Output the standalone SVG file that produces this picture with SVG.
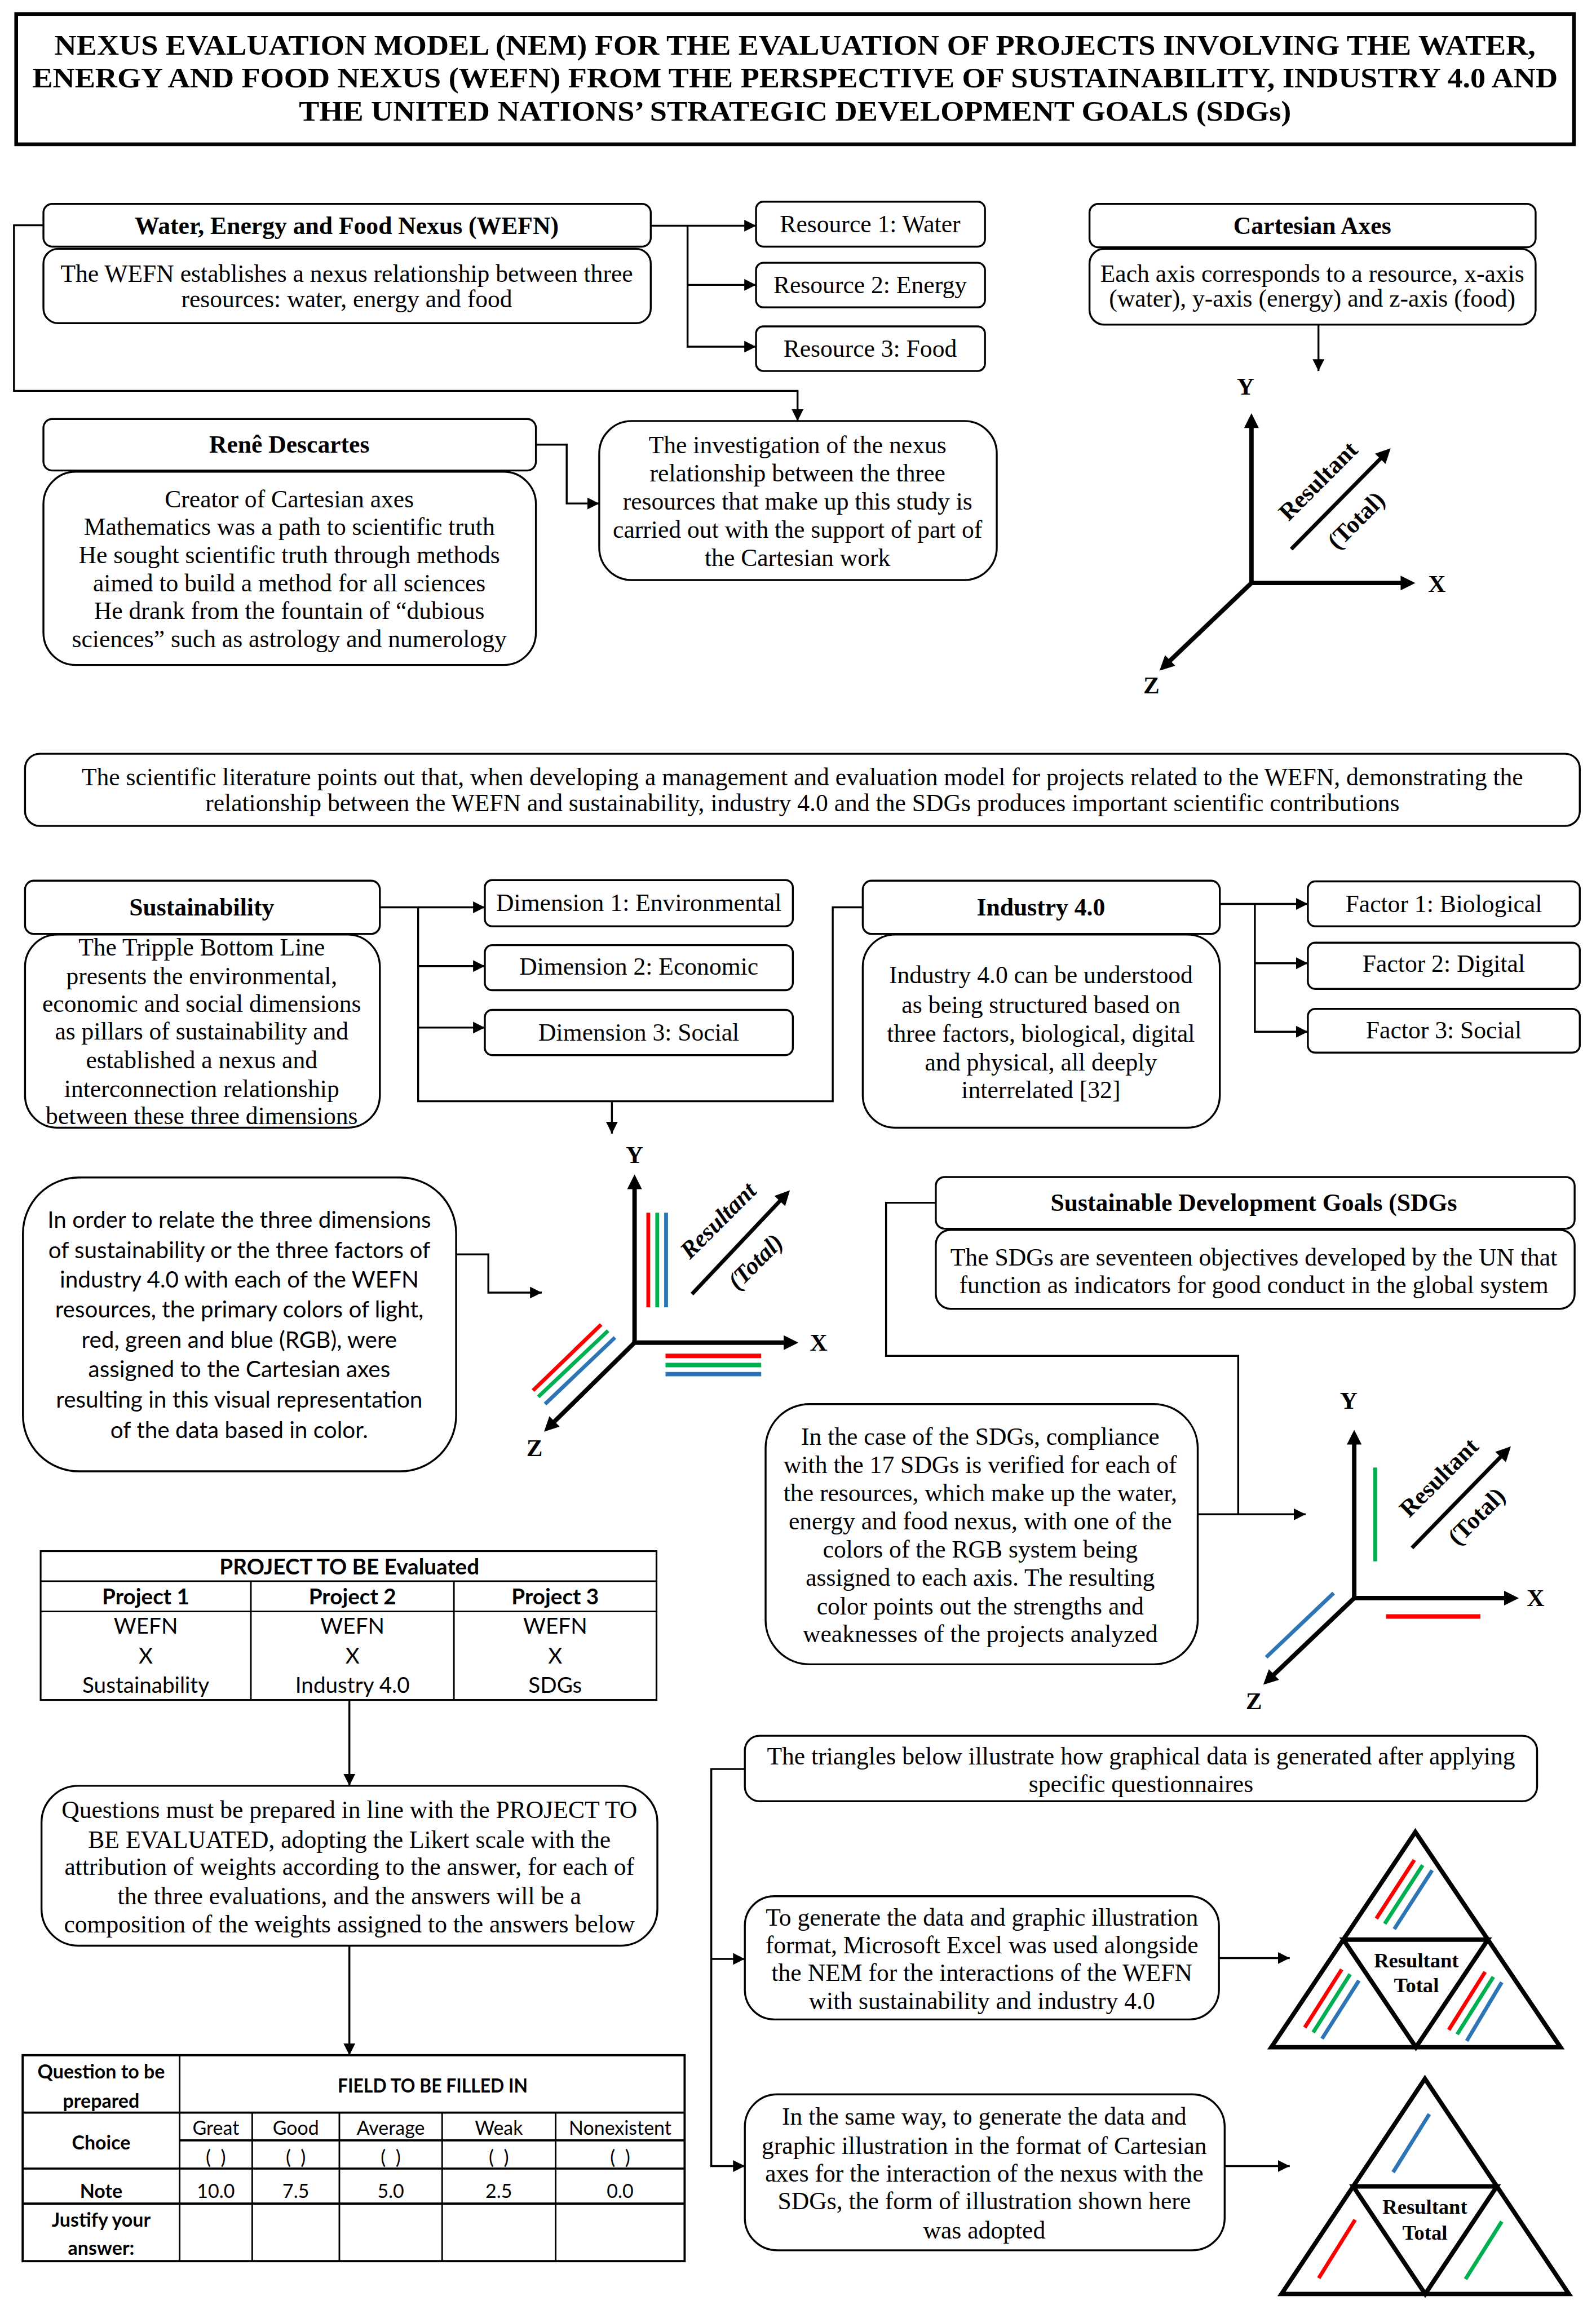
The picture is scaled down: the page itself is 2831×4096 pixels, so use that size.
<svg xmlns="http://www.w3.org/2000/svg" width="2831" height="4096" viewBox="0 0 2831 4096">
<defs>
<style>
.bx{fill:#fff;stroke:#000;stroke-width:1.3}
.ln{fill:none;stroke:#000;stroke-width:1.3}
.ax{fill:none;stroke:#000;stroke-width:3}
.s{font-family:"Liberation Serif","Times New Roman",serif;font-size:16.7px;text-anchor:middle;fill:#000}
.b{font-weight:bold}
.i{font-style:italic}
.lab{font-family:"Liberation Serif","Times New Roman",serif;font-size:16.5px;font-weight:bold;text-anchor:middle;fill:#000}
.k{font-family:Lato,"Open Sans","Liberation Sans",sans-serif;text-anchor:middle;fill:#000}
.k14{font-size:14.8px}
.k12{font-size:13px}
.tri{fill:#fff;stroke:#000;stroke-width:3;stroke-linejoin:miter}
.cl{fill:none;stroke-width:2.6}
.r{stroke:#FF0000}.g{stroke:#00B050}.bl{stroke:#2E75B6}
.tb{fill:none;stroke:#000;stroke-width:1.1}
</style>
<marker id="ar" viewBox="0 0 10 10" refX="10" refY="5" markerWidth="8" markerHeight="8" markerUnits="userSpaceOnUse" orient="auto"><path d="M0,0 L10,5 L0,10 z" fill="#000"/></marker>
<marker id="aa" viewBox="0 0 10 10" refX="3" refY="5" markerWidth="11" markerHeight="10" markerUnits="userSpaceOnUse" orient="auto"><path d="M0,0 L10,5 L0,10 z" fill="#000"/></marker>
</defs>
<rect width="2831" height="4096" fill="#fff"/>
<g transform="scale(2.6116)">

<g id="title">
<rect x="11" y="9.5" width="1058" height="88.5" fill="#fff" stroke="#000" stroke-width="2.5"/>
<text class="s b" style="font-size:19.5px" x="540" y="37" textLength="1006" lengthAdjust="spacingAndGlyphs">NEXUS EVALUATION MODEL (NEM) FOR THE EVALUATION OF PROJECTS INVOLVING THE WATER,</text>
<text class="s b" style="font-size:19.5px" x="540" y="59.5" textLength="1036" lengthAdjust="spacingAndGlyphs">ENERGY AND FOOD NEXUS (WEFN) FROM THE PERSPECTIVE OF SUSTAINABILITY, INDUSTRY 4.0 AND</text>
<text class="s b" style="font-size:19.5px" x="540" y="82" textLength="674" lengthAdjust="spacingAndGlyphs">THE UNITED NATIONS’ STRATEGIC DEVELOPMENT GOALS (SDGs)</text>
</g>

<g id="connectors">
<path class="ln" d="M442,153.3 H513.5" marker-end="url(#ar)"/>
<path class="ln" d="M467,153.3 V235.5 H513.5" marker-end="url(#ar)"/>
<path class="ln" d="M467,193.5 H513.5" marker-end="url(#ar)"/>
<path class="ln" d="M29.5,153 H9.5 V265.5 H541.7 V286" marker-end="url(#ar)"/>
<path class="ln" d="M364,302 H384.9 V342 H407" marker-end="url(#ar)"/>
<path class="ln" d="M895.5,220.5 V252" marker-end="url(#ar)"/>
<path class="ln" d="M258,616.3 H284 V748 H565.6 V616.3 H586"/>
<path class="ln" d="M284,616.3 H329.3" marker-end="url(#ar)"/>
<path class="ln" d="M284,656.2 H329.3" marker-end="url(#ar)"/>
<path class="ln" d="M284,698 H329.3" marker-end="url(#ar)"/>
<path class="ln" d="M415.6,748 V770" marker-end="url(#ar)"/>
<path class="ln" d="M828.5,614 H888.3" marker-end="url(#ar)"/>
<path class="ln" d="M852.3,614 V700.8 H888.3" marker-end="url(#ar)"/>
<path class="ln" d="M852.3,654.3 H888.3" marker-end="url(#ar)"/>
<path class="ln" d="M309.8,852 H331.7 V878 H368" marker-end="url(#ar)"/>
<path class="ln" d="M635.6,817 H601.8 V921 H841 V1028.6"/>
<path class="ln" d="M813.5,1028.6 H886.8" marker-end="url(#ar)"/>
<path class="ln" d="M237.3,1154.7 V1213" marker-end="url(#ar)"/>
<path class="ln" d="M237.3,1321.6 V1396" marker-end="url(#ar)"/>
<path class="ln" d="M505.9,1201.6 H483.1 V1471.3 H505.9" marker-end="url(#ar)"/>
<path class="ln" d="M483.1,1330.6 H505.9" marker-end="url(#ar)"/>
<path class="ln" d="M827.9,1330 H876" marker-end="url(#ar)"/>
<path class="ln" d="M831.8,1471.3 H876" marker-end="url(#ar)"/>
</g>

<g id="wefn">
<rect class="bx" x="29.5" y="138.5" width="412.5" height="29" rx="6"/>
<text class="s b" x="235.5" y="158.8">Water, Energy and Food Nexus (WEFN)</text>
<rect class="bx" x="29.5" y="169" width="412.5" height="50.5" rx="10"/>
<text class="s" x="235.5" y="191.5">The WEFN establishes a nexus relationship between three</text>
<text class="s" x="235.5" y="208.5">resources: water, energy and food</text>
</g>
<g id="resource1"><rect class="bx" x="513.5" y="137" width="155.5" height="30.5" rx="5"/><text class="s" x="591" y="157.8">Resource 1: Water</text></g>
<g id="resource2"><rect class="bx" x="513.5" y="178.5" width="155.5" height="30.3" rx="5"/><text class="s" x="591" y="199.3">Resource 2: Energy</text></g>
<g id="resource3"><rect class="bx" x="513.5" y="221.7" width="155.5" height="30.3" rx="5"/><text class="s" x="591" y="242.5">Resource 3: Food</text></g>

<g id="descartes">
<rect class="bx" x="29.5" y="284.6" width="334.5" height="35" rx="6"/>
<text class="s b" x="196.5" y="307.5">Renê Descartes</text>
<rect class="bx" x="29.5" y="320.4" width="334.5" height="131.3" rx="22"/>
<text class="s" x="196.5" y="344.5">Creator of Cartesian axes</text>
<text class="s" x="196.5" y="363.5">Mathematics was a path to scientific truth</text>
<text class="s" x="196.5" y="382.5">He sought scientific truth through methods</text>
<text class="s" x="196.5" y="401.5">aimed to build a method for all sciences</text>
<text class="s" x="196.5" y="420.5">He drank from the fountain of “dubious</text>
<text class="s" x="196.5" y="439.5">sciences” such as astrology and numerology</text>
</g>

<g id="investigation">
<rect class="bx" x="407" y="286" width="270" height="108" rx="22"/>
<text class="s" x="541.7" y="308">The investigation of the nexus</text>
<text class="s" x="541.7" y="327">relationship between the three</text>
<text class="s" x="541.7" y="346">resources that make up this study is</text>
<text class="s" x="541.7" y="365.3">carried out with the support of part of</text>
<text class="s" x="541.7" y="384.5">the Cartesian work</text>
</g>

<g id="cartesian">
<rect class="bx" x="740" y="138.5" width="303" height="29.5" rx="6"/>
<text class="s b" x="891.3" y="158.8">Cartesian Axes</text>
<rect class="bx" x="740" y="169" width="303" height="51.5" rx="10"/>
<text class="s" x="891.3" y="191.3">Each axis corresponds to a resource, x-axis</text>
<text class="s" x="891.3" y="208.2">(water), y-axis (energy) and z-axis (food)</text>
</g>

<g id="axes1">
<path class="ax" d="M850,396 V287.7" marker-end="url(#aa)"/>
<path class="ax" d="M848.5,396 H954.3" marker-end="url(#aa)"/>
<path class="ax" d="M850,396 L792.6,450.7" marker-end="url(#aa)"/>
<path class="ax" style="stroke-width:2.6" d="M877,373 L939.6,309.5" marker-end="url(#aa)"/>
<text class="lab" x="846" y="268">Y</text>
<text class="lab" x="976" y="402">X</text>
<text class="lab" x="782" y="471">Z</text>
<g transform="translate(895.3,326.6) rotate(-45)"><text class="lab" x="0" y="5.5">Resultant</text></g>
<g transform="translate(921,353.4) rotate(-45)"><text class="lab" x="0" y="5.5">(Total)</text></g>
</g>

<g id="literature">
<rect class="bx" x="17" y="512" width="1056" height="49" rx="10"/>
<text class="s" x="545" y="533.5">The scientific literature points out that, when developing a management and evaluation model for projects related to the WEFN, demonstrating the</text>
<text class="s" x="545" y="551">relationship between the WEFN and sustainability, industry 4.0 and the SDGs produces important scientific contributions</text>
</g>

<g id="sustainability">
<rect class="bx" x="17" y="598.2" width="241" height="36.2" rx="6"/>
<text class="s b" x="137" y="622">Sustainability</text>
<rect class="bx" x="17" y="634.8" width="241" height="131.2" rx="22"/>
<text class="s" x="137" y="649">The Tripple Bottom Line</text>
<text class="s" x="137" y="668.6">presents the environmental,</text>
<text class="s" x="137" y="687.3">economic and social dimensions</text>
<text class="s" x="137" y="706">as pillars of sustainability and</text>
<text class="s" x="137" y="725.5">established a nexus and</text>
<text class="s" x="137" y="745">interconnection relationship</text>
<text class="s" x="137" y="763.5">between these three dimensions</text>
</g>
<g id="dimension1"><rect class="bx" x="329.3" y="597.8" width="209.2" height="31.4" rx="5"/><text class="s" x="433.9" y="618.8">Dimension 1: Environmental</text></g>
<g id="dimension2"><rect class="bx" x="329.3" y="642" width="209.2" height="30.6" rx="5"/><text class="s" x="433.9" y="662">Dimension 2: Economic</text></g>
<g id="dimension3"><rect class="bx" x="329.3" y="686" width="209.2" height="30.7" rx="5"/><text class="s" x="433.9" y="707">Dimension 3: Social</text></g>

<g id="industry">
<rect class="bx" x="586" y="598.2" width="242.5" height="36.2" rx="6"/>
<text class="s b" x="707" y="622">Industry 4.0</text>
<rect class="bx" x="586" y="634.8" width="242.5" height="131.2" rx="22"/>
<text class="s" x="707" y="667.8">Industry 4.0 can be understood</text>
<text class="s" x="707" y="688">as being structured based on</text>
<text class="s" x="707" y="707.6">three factors, biological, digital</text>
<text class="s" x="707" y="727.2">and physical, all deeply</text>
<text class="s" x="707" y="745.8">interrelated [32]</text>
</g>
<g id="factor1"><rect class="bx" x="888.3" y="598.7" width="184.7" height="30.5" rx="5"/><text class="s" x="980.6" y="619.5">Factor 1: Biological</text></g>
<g id="factor2"><rect class="bx" x="888.3" y="640.3" width="184.7" height="31.4" rx="5"/><text class="s" x="980.6" y="660.2">Factor 2: Digital</text></g>
<g id="factor3"><rect class="bx" x="888.3" y="685.3" width="184.7" height="29.7" rx="5"/><text class="s" x="980.6" y="705.3">Factor 3: Social</text></g>

<g id="rgb">
<rect class="bx" x="15.6" y="799.8" width="294.2" height="199.6" rx="38"/>
<text class="k" style="font-size:15.5px" x="162.5" y="834">In order to relate the three dimensions</text>
<text class="k" style="font-size:15.5px" x="162.5" y="854.6">of sustainability or the three factors of</text>
<text class="k" style="font-size:15.5px" x="162.5" y="874.4">industry 4.0 with each of the WEFN</text>
<text class="k" style="font-size:15.5px" x="162.5" y="894.9">resources, the primary colors of light,</text>
<text class="k" style="font-size:15.5px" x="162.5" y="915.4">red, green and blue (RGB), were</text>
<text class="k" style="font-size:15.5px" x="162.5" y="935.6">assigned to the Cartesian axes</text>
<text class="k" style="font-size:15.5px" x="162.5" y="956.1">resulting in this visual representation</text>
<text class="k" style="font-size:15.5px" x="162.5" y="976.7">of the data based in color.</text>
</g>

<g id="axes2">
<path class="cl r" d="M440.3,823.7 V888"/>
<path class="cl g" d="M446.4,823.7 V888"/>
<path class="cl bl" d="M452.4,823.7 V888"/>
<path class="cl r" style="stroke-width:3" d="M452,921 H517"/>
<path class="cl g" style="stroke-width:3" d="M452,927.2 H517"/>
<path class="cl bl" style="stroke-width:3" d="M452,933.4 H517"/>
<path class="cl r" d="M362,944.5 L408.3,899.7"/>
<path class="cl g" d="M365.6,948.8 L413,903.9"/>
<path class="cl bl" d="M370.2,953.7 L417.7,908.5"/>
<path class="ax" d="M431,912 V804.7" marker-end="url(#aa)"/>
<path class="ax" d="M429.5,912 H535.3" marker-end="url(#aa)"/>
<path class="ax" d="M431,912 L374.5,967.6" marker-end="url(#aa)"/>
<path class="ax" style="stroke-width:2.6" d="M470,879 L531.7,813.6" marker-end="url(#aa)"/>
<text class="lab" x="431" y="790">Y</text>
<text class="lab" x="556" y="917.5">X</text>
<text class="lab" x="363" y="989">Z</text>
<g transform="translate(487.7,829) rotate(-45)"><text class="lab i" x="0" y="5.5">Resultant</text></g>
<g transform="translate(513,857) rotate(-45)"><text class="lab i" x="0" y="5.5">(Total)</text></g>
</g>

<g id="sdgs">
<rect class="bx" x="635.6" y="799.5" width="433.9" height="35.1" rx="6"/>
<text class="s b" x="851.6" y="822.5">Sustainable Development Goals (SDGs</text>
<rect class="bx" x="635.6" y="835.4" width="433.9" height="53.6" rx="10"/>
<text class="s" x="851.6" y="859.5">The SDGs are seventeen objectives developed by the UN that</text>
<text class="s" x="851.6" y="878.5">function as indicators for good conduct in the global system</text>
</g>

<g id="sdgcase">
<rect class="bx" x="520" y="953.7" width="293.5" height="176.8" rx="30"/>
<text class="s" x="665.8" y="981.5">In the case of the SDGs, compliance</text>
<text class="s" x="665.8" y="1000.5">with the 17 SDGs is verified for each of</text>
<text class="s" x="665.8" y="1019.8">the resources, which make up the water,</text>
<text class="s" x="665.8" y="1038.9">energy and food nexus, with one of the</text>
<text class="s" x="665.8" y="1058.1">colors of the RGB system being</text>
<text class="s" x="665.8" y="1077.3">assigned to each axis. The resulting</text>
<text class="s" x="665.8" y="1096.5">color points out the strengths and</text>
<text class="s" x="665.8" y="1115.5">weaknesses of the projects analyzed</text>
</g>

<g id="axes3">
<path class="cl g" d="M934,996.8 V1060.6"/>
<path class="cl r" style="stroke-width:3" d="M941.4,1098 H1005.5"/>
<path class="cl bl" d="M860,1125.7 L905.8,1082.1"/>
<path class="ax" d="M919.8,1085.5 V978.2" marker-end="url(#aa)"/>
<path class="ax" d="M918.3,1085.5 H1024.6" marker-end="url(#aa)"/>
<path class="ax" d="M919.8,1085.5 L863.1,1139.5" marker-end="url(#aa)"/>
<path class="ax" style="stroke-width:2.6" d="M959,1051.4 L1021.3,987.5" marker-end="url(#aa)"/>
<text class="lab" x="916" y="957">Y</text>
<text class="lab" x="1043" y="1091">X</text>
<text class="lab" x="851.6" y="1161">Z</text>
<g transform="translate(977.3,1003.5) rotate(-45)"><text class="lab" x="0" y="5.5">Resultant</text></g>
<g transform="translate(1002.8,1029.9) rotate(-45)"><text class="lab" x="0" y="5.5">(Total)</text></g>
</g>

<g id="projecttable">
<rect x="27.6" y="1053.6" width="418.3" height="101.1" fill="#fff" stroke="#000" stroke-width="1.2"/>
<path class="tb" d="M27.6,1074 H445.9 M27.6,1094.6 H445.9 M170.4,1074 V1154.7 M308.3,1074 V1154.7"/>
<text class="k k14 b" x="237.3" y="1069.5">PROJECT TO BE Evaluated</text>
<text class="k k14 b" x="99" y="1089.8">Project 1</text>
<text class="k k14 b" x="239.4" y="1089.8">Project 2</text>
<text class="k k14 b" x="377.1" y="1089.8">Project 3</text>
<text class="k k14" x="99" y="1109.8">WEFN</text>
<text class="k k14" x="239.4" y="1109.8">WEFN</text>
<text class="k k14" x="377.1" y="1109.8">WEFN</text>
<text class="k k14" x="99" y="1129.9">X</text>
<text class="k k14" x="239.4" y="1129.9">X</text>
<text class="k k14" x="377.1" y="1129.9">X</text>
<text class="k k14" x="99" y="1149.9">Sustainability</text>
<text class="k k14" x="239.4" y="1149.9">Industry 4.0</text>
<text class="k k14" x="377.1" y="1149.9">SDGs</text>
</g>

<g id="questions">
<rect class="bx" x="28.2" y="1213" width="418.3" height="108.6" rx="25"/>
<text class="s" x="237.3" y="1235">Questions must be prepared in line with the PROJECT TO</text>
<text class="s" x="237.3" y="1255">BE EVALUATED, adopting the Likert scale with the</text>
<text class="s" x="237.3" y="1273.7">attribution of weights according to the answer, for each of</text>
<text class="s" x="237.3" y="1293.4">the three evaluations, and the answers will be a</text>
<text class="s" x="237.3" y="1312.5">composition of the weights assigned to the answers below</text>
</g>

<g id="likerttable">
<rect x="15.4" y="1396" width="449.6" height="139.9" fill="#fff" stroke="#000" stroke-width="1.5"/>
<path class="tb" style="stroke-width:1.5" d="M15.4,1435 H465 M122,1453.8 H465 M15.4,1473 H465 M15.4,1496.8 H465"/>
<path class="tb" d="M122,1396 V1535.9 M171.3,1435 V1535.9 M230.5,1435 V1535.9 M300.3,1435 V1535.9 M377.4,1435 V1535.9"/>
<text class="k k12 b" x="68.7" y="1411.8">Question to be</text>
<text class="k k12 b" x="68.7" y="1431.6">prepared</text>
<text class="k k12 b" x="293.9" y="1421.3" textLength="129" lengthAdjust="spacingAndGlyphs">FIELD TO BE FILLED IN</text>
<text class="k k12 b" x="68.7" y="1460">Choice</text>
<text class="k k12" x="146.6" y="1450.2">Great</text>
<text class="k k12" x="200.9" y="1450.2">Good</text>
<text class="k k12" x="265.4" y="1450.2">Average</text>
<text class="k k12" x="338.8" y="1450.2">Weak</text>
<text class="k k12" x="421.2" y="1450.2">Nonexistent</text>
<text class="k k12" x="146.6" y="1469.8">(&#160;&#160;)</text>
<text class="k k12" x="200.9" y="1469.8">(&#160;&#160;)</text>
<text class="k k12" x="265.4" y="1469.8">(&#160;&#160;)</text>
<text class="k k12" x="338.8" y="1469.8">(&#160;&#160;)</text>
<text class="k k12" x="421.2" y="1469.8">(&#160;&#160;)</text>
<text class="k k12 b" x="68.7" y="1492.8">Note</text>
<text class="k k12" x="146.6" y="1492.8">10.0</text>
<text class="k k12" x="200.9" y="1492.8">7.5</text>
<text class="k k12" x="265.4" y="1492.8">5.0</text>
<text class="k k12" x="338.8" y="1492.8">2.5</text>
<text class="k k12" x="421.2" y="1492.8">0.0</text>
<text class="k k12 b" x="68.7" y="1512.4">Justify your</text>
<text class="k k12 b" x="68.7" y="1531.8">answer:</text>
</g>

<g id="trianglesintro">
<rect class="bx" x="505.9" y="1179" width="538.1" height="44.5" rx="10"/>
<text class="s" x="775" y="1198.5">The triangles below illustrate how graphical data is generated after applying</text>
<text class="s" x="775" y="1217.2">specific questionnaires</text>
</g>

<g id="excel">
<rect class="bx" x="505.9" y="1288" width="322" height="83.7" rx="20"/>
<text class="s" x="666.9" y="1307.9">To generate the data and graphic illustration</text>
<text class="s" x="666.9" y="1326.8">format, Microsoft Excel was used alongside</text>
<text class="s" x="666.9" y="1345.7">the NEM for the interactions of the WEFN</text>
<text class="s" x="666.9" y="1364.6">with sustainability and industry 4.0</text>
</g>

<g id="sameway">
<rect class="bx" x="505.9" y="1422.6" width="325.9" height="105.9" rx="22"/>
<text class="s" x="668.5" y="1443.3">In the same way, to generate the data and</text>
<text class="s" x="668.5" y="1462.9">graphic illustration in the format of Cartesian</text>
<text class="s" x="668.5" y="1481.8">axes for the interaction of the nexus with the</text>
<text class="s" x="668.5" y="1500.7">SDGs, the form of illustration shown here</text>
<text class="s" x="668.5" y="1520.4">was adopted</text>
</g>

<g id="triangle1">
<polygon class="tri" points="961.3,1244.4 863.5,1390.6 1059.9,1390.6"/>
<polygon class="tri" style="fill:none" points="912.4,1317.5 1010.6,1317.5 961.7,1390.6"/>
<path class="cl r" d="M934.8,1303.2 L960.6,1263.4"/>
<path class="cl g" d="M940.5,1306.7 L966.3,1266.9"/>
<path class="cl bl" d="M947,1310.3 L972.7,1270.4"/>
<path class="cl r" d="M886.2,1377.2 L911.3,1337.7"/>
<path class="cl g" d="M891.9,1380.5 L917,1341"/>
<path class="cl bl" d="M897.9,1384.8 L923,1345.3"/>
<path class="cl r" d="M984,1378.8 L1008.7,1339.4"/>
<path class="cl g" d="M989.7,1381.8 L1014.3,1342.8"/>
<path class="cl bl" d="M996.2,1386.3 L1020,1346.5"/>
<text class="s b" style="font-size:14px" x="962" y="1336.3">Resultant</text>
<text class="s b" style="font-size:14px" x="962" y="1353.3">Total</text>
</g>

<g id="triangle2">
<polygon class="tri" points="967.8,1412 870.4,1558.2 1065.6,1558.2"/>
<polygon class="tri" style="fill:none" points="919.1,1485.1 1016.7,1485.1 968,1558.2"/>
<path class="cl bl" d="M946.2,1475.5 L970.8,1436"/>
<path class="cl r" d="M895.7,1547.4 L920.4,1507.8"/>
<path class="cl g" d="M995.4,1548.1 L1020,1509"/>
<text class="s b" style="font-size:14px" x="967.8" y="1503.8">Resultant</text>
<text class="s b" style="font-size:14px" x="967.8" y="1521.3">Total</text>
</g>

</g>
</svg>
